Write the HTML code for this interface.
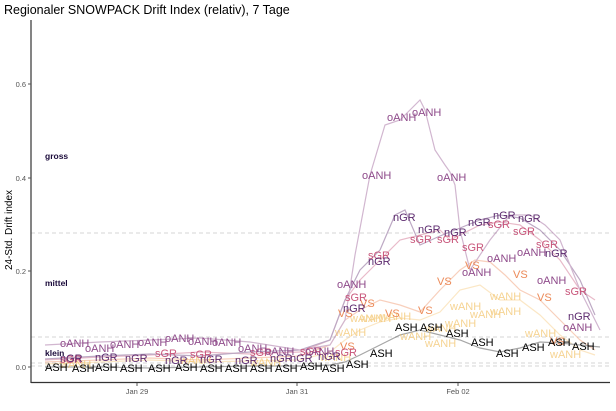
<!DOCTYPE html>
<html><head><meta charset="utf-8"><style>
body{margin:0;background:#fff}
svg{display:block;font-family:"Liberation Sans",sans-serif}
</style></head><body>
<svg width="616" height="411" viewBox="0 0 616 411">
<text x="4" y="14" font-size="12.5" fill="#000">Regionaler SNOWPACK Drift Index (relativ), 7 Tage</text>
<g stroke="#d4d4d4" stroke-dasharray="4,3" stroke-width="1">
<line x1="31" y1="233" x2="610" y2="233"/>
<line x1="31" y1="337" x2="610" y2="337"/>
<line x1="31" y1="363" x2="610" y2="363"/>
<line x1="31" y1="366" x2="610" y2="366"/>
</g>
<line x1="31" y1="20" x2="31" y2="383" stroke="#333" stroke-width="1.2"/>
<line x1="31" y1="382.5" x2="610" y2="382.5" stroke="#333" stroke-width="1.2"/>
<g font-size="7.5" fill="#555" text-anchor="end">
<text x="26" y="87">0.6</text><text x="26" y="181">0.4</text><text x="26" y="274">0.2</text><text x="26" y="370">0.0</text>
</g>
<g stroke="#555"><line x1="28" y1="84" x2="31" y2="84"/><line x1="28" y1="178" x2="31" y2="178"/><line x1="28" y1="271" x2="31" y2="271"/><line x1="28" y1="367" x2="31" y2="367"/>
<line x1="137" y1="383" x2="137" y2="386"/><line x1="297" y1="383" x2="297" y2="386"/><line x1="458" y1="383" x2="458" y2="386"/></g>
<g font-size="7.5" fill="#555" text-anchor="middle"><text x="137" y="394">Jan 29</text><text x="297" y="394">Jan 31</text><text x="458" y="394">Feb 02</text></g>
<text transform="translate(12,230) rotate(-90)" font-size="10" text-anchor="middle">24-Std. Drift index</text>
<g font-size="8.5" font-weight="bold" fill="#1a0a3a"><text x="45" y="159">gross</text><text x="45" y="286">mittel</text><text x="45" y="356">klein</text></g>
<g fill="none" stroke-width="1.2" opacity="0.4">
<polyline stroke="#f6c470" points="45,364 100,362 150,360 200,362 250,361 300,360 330,352 345,340 360,330 380,322 400,318 420,320 440,312 460,290 480,285 500,300 520,300 540,315 560,335 580,350 595,355"/>
<polyline stroke="#ee8a5a" points="45,362 100,360 150,358 200,360 250,358 300,356 330,345 345,320 360,310 380,300 400,305 420,312 440,290 460,270 475,260 490,262 505,275 520,290 540,300 560,320 580,340 595,350"/>
<polyline stroke="#c8557a" points="45,360 100,357 150,355 200,352 250,354 300,352 330,340 345,300 360,280 380,260 400,240 420,235 440,230 450,240 460,235 480,225 500,222 520,225 540,240 560,260 580,290 595,300"/>
<polyline stroke="#5c2a6e" points="45,359 100,356 150,354 200,356 250,352 300,350 330,340 345,300 360,270 380,250 395,215 405,210 420,245 440,236 460,228 480,220 500,215 520,218 540,230 560,250 580,280 595,315"/>
<polyline stroke="#8e4a8a" points="45,345 100,342 150,340 200,338 250,342 300,350 330,345 345,320 355,255 370,175 385,125 400,120 410,110 420,100 425,110 435,150 445,165 450,172 455,185 460,230 470,270 490,240 510,215 530,215 545,225 560,240 580,290 600,330"/>
<polyline stroke="#222" points="45,367 100,367 150,368 200,367 250,366 300,366 330,365 345,362 360,355 380,345 400,335 420,330 440,335 460,340 480,348 500,352 520,348 540,342 560,343 580,345 600,347"/>
</g>
<g font-size="11">
<g fill="#f3c56e" opacity="0.75">
<text x="380" y="320">wANH</text><text x="400" y="340">wANH</text><text x="425" y="332">wANH</text><text x="445" y="327">wANH</text><text x="470" y="318">wANH</text><text x="490" y="300">wANH</text><text x="450" y="310">wANH</text><text x="490" y="315">wANH</text><text x="525" y="337">wANH</text><text x="550" y="358">wANH</text><text x="425" y="347">wANH</text><text x="360" y="322">wANH</text><text x="335" y="336">wANH</text><text x="320" y="361">wANH</text><text x="350" y="322">wANH</text><text x="60" y="368">wANH</text><text x="180" y="364">wANH</text><text x="250" y="366">wANH</text>
</g>
<g fill="#ec8a58">
<text x="385" y="317">VS</text><text x="418" y="314">VS</text><text x="437" y="285">VS</text><text x="465" y="269">VS</text><text x="513" y="278">VS</text><text x="537" y="301">VS</text><text x="338" y="317">VS</text><text x="340" y="350">VS</text><text x="550" y="345">VS</text><text x="360" y="307">VS</text>
</g>
<g fill="#c8557a">
<text x="345" y="301">sGR</text><text x="368" y="259">sGR</text><text x="410" y="243">sGR</text><text x="437" y="243">sGR</text><text x="462" y="251">sGR</text><text x="488" y="228">sGR</text><text x="513" y="235">sGR</text><text x="536" y="248">sGR</text><text x="565" y="295">sGR</text><text x="60" y="363">sGR</text><text x="155" y="357">sGR</text><text x="250" y="356">sGR</text><text x="300" y="355">sGR</text><text x="335" y="356">sGR</text><text x="190" y="358">sGR</text>
</g>
<g fill="#5c2a6e">
<text x="393" y="221">nGR</text><text x="418" y="233">nGR</text><text x="444" y="236">nGR</text><text x="468" y="226">nGR</text><text x="493" y="219">nGR</text><text x="518" y="222">nGR</text><text x="368" y="265">nGR</text><text x="343" y="312">nGR</text><text x="545" y="257">nGR</text><text x="568" y="320">nGR</text><text x="60" y="362">nGR</text><text x="95" y="361">nGR</text><text x="125" y="362">nGR</text><text x="165" y="364">nGR</text><text x="200" y="363">nGR</text><text x="235" y="364">nGR</text><text x="270" y="362">nGR</text><text x="318" y="360">nGR</text><text x="290" y="362">nGR</text>
</g>
<g fill="#8e4a8a">
<text x="387" y="121">oANH</text><text x="412" y="116">oANH</text><text x="362" y="179">oANH</text><text x="437" y="181">oANH</text><text x="337" y="288">oANH</text><text x="462" y="276">oANH</text><text x="487" y="262">oANH</text><text x="517" y="256">oANH</text><text x="537" y="284">oANH</text><text x="563" y="331">oANH</text>
<text x="60" y="347">oANH</text><text x="85" y="352">oANH</text><text x="110" y="348">oANH</text><text x="138" y="346">oANH</text><text x="165" y="342">oANH</text><text x="188" y="345">oANH</text><text x="212" y="346">oANH</text><text x="238" y="352">oANH</text><text x="265" y="355">oANH</text><text x="305" y="355">oANH</text>
</g>
<g fill="#000">
<text x="420" y="331">ASH</text><text x="446" y="337">ASH</text><text x="471" y="346">ASH</text><text x="496" y="357">ASH</text><text x="522" y="351">ASH</text><text x="548" y="346">ASH</text><text x="572" y="350">ASH</text><text x="395" y="331">ASH</text><text x="370" y="357">ASH</text><text x="346" y="368">ASH</text>
<text x="45" y="371">ASH</text><text x="72" y="372">ASH</text><text x="95" y="371">ASH</text><text x="120" y="372">ASH</text><text x="148" y="372">ASH</text><text x="175" y="371">ASH</text><text x="200" y="372">ASH</text><text x="225" y="372">ASH</text><text x="250" y="372">ASH</text><text x="275" y="372">ASH</text><text x="300" y="370">ASH</text><text x="322" y="372">ASH</text>
</g>
</g>
</svg>
</body></html>
